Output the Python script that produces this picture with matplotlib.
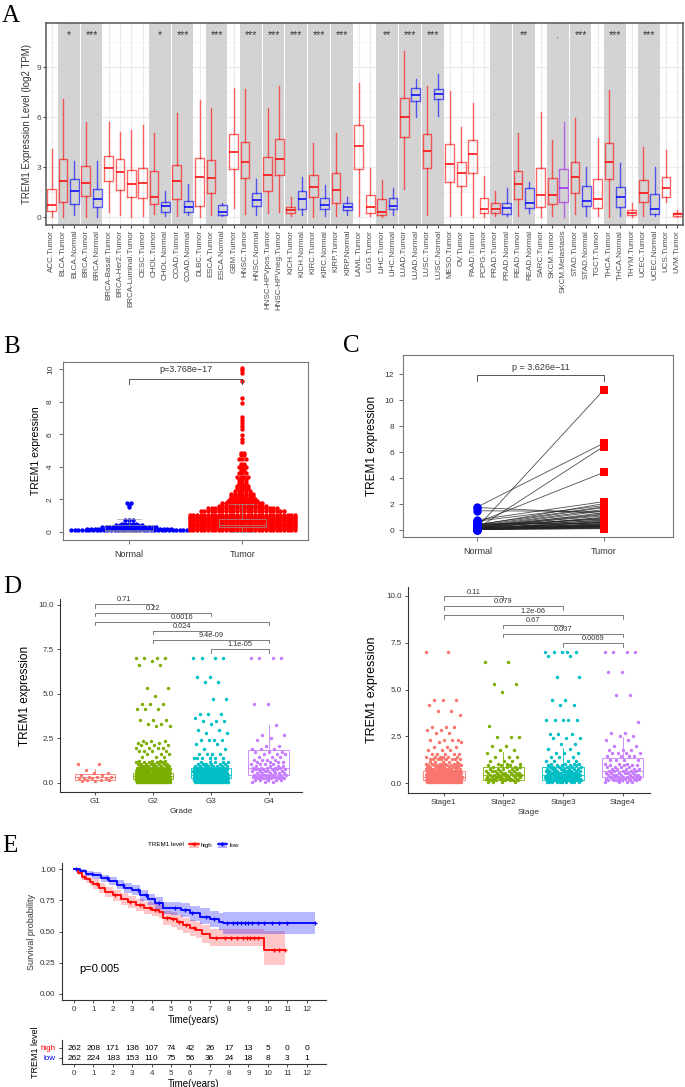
import numpy as np
import matplotlib
matplotlib.use('Agg')
import matplotlib.pyplot as plt
from matplotlib.patches import Patch
from matplotlib.lines import Line2D

plt.rcParams['font.family'] = ['Liberation Sans', 'DejaVu Sans']

# ---------------- panel A data (TIMER-like boxplots) ----------------
a_labels = ['ACC.Tumor', 'BLCA.Tumor', 'BLCA.Normal', 'BRCA.Tumor', 'BRCA.Normal',
            'BRCA-Basal.Tumor', 'BRCA-Her2.Tumor', 'BRCA-Luminal.Tumor', 'CESC.Tumor',
            'CHOL.Tumor', 'CHOL.Normal', 'COAD.Tumor', 'COAD.Normal', 'DLBC.Tumor',
            'ESCA.Tumor', 'ESCA.Normal', 'GBM.Tumor', 'HNSC.Tumor', 'HNSC.Normal',
            'HNSC-HPVpos.Tumor', 'HNSC-HPVneg.Tumor', 'KICH.Tumor', 'KICH.Normal',
            'KIRC.Tumor', 'KIRC.Normal', 'KIRP.Tumor', 'KIRP.Normal', 'LAML.Tumor',
            'LGG.Tumor', 'LIHC.Tumor', 'LIHC.Normal', 'LUAD.Tumor', 'LUAD.Normal',
            'LUSC.Tumor', 'LUSC.Normal', 'MESO.Tumor', 'OV.Tumor', 'PAAD.Tumor',
            'PCPG.Tumor', 'PRAD.Tumor', 'PRAD.Normal', 'READ.Tumor', 'READ.Normal',
            'SARC.Tumor', 'SKCM.Tumor', 'SKCM.Metastasis', 'STAD.Tumor', 'STAD.Normal',
            'TGCT.Tumor', 'THCA.Tumor', 'THCA.Normal', 'THYM.Tumor', 'UCEC.Tumor',
            'UCEC.Normal', 'UCS.Tumor', 'UVM.Tumor']
a_low = [0.02, 0.02, 0.12, 0.02, 0.02, 0.32, 0.12, 0.02, 0.06, 0.18, 0.06, 0.06, 0.12, 0.02,
         0.12, 0.06, 0.52, 0.18, 0.12, 0.22, 0.32, 0.06, 0.12, 0.02, 0.06, 0.06, 0.12, 0.06,
         0.06, 0.02, 0.12, 1.66, 6.02, 0.12, 6.08, 0.06, 0.12, 0.02, 0.02, 0.06, 0.06, 0.06,
         0.26, 0.02, 0.06, 0.02, 0.18, 0.06, 0.06, 0.02, 0.06, 0.02, 0.06, 0.06, 0.90, 0.02]
a_q1 = [0.36, 0.92, 0.78, 1.26, 0.58, 2.16, 1.62, 1.22, 1.14, 0.78, 0.30, 1.06, 0.32, 0.68,
        1.42, 0.12, 2.86, 2.32, 0.66, 1.54, 2.52, 0.22, 0.46, 1.18, 0.46, 0.82, 0.42, 2.88,
        0.22, 0.12, 0.46, 4.82, 6.98, 2.92, 7.06, 2.12, 1.88, 2.66, 0.22, 0.26, 0.18, 1.10,
        0.52, 0.62, 0.78, 0.92, 1.42, 0.66, 0.52, 2.26, 0.62, 0.12, 0.92, 0.18, 1.22, 0.06]
a_med = [0.72, 2.16, 1.58, 2.02, 1.08, 2.92, 2.70, 1.96, 2.02, 1.18, 0.66, 2.16, 0.58, 2.42,
         2.32, 0.32, 3.92, 3.28, 1.04, 2.50, 3.48, 0.42, 1.06, 1.78, 0.72, 1.62, 0.62, 4.28,
         0.58, 0.32, 0.66, 6.02, 7.32, 3.98, 7.38, 3.18, 2.62, 3.76, 0.46, 0.46, 0.52, 1.96,
         0.82, 1.32, 1.32, 1.72, 2.38, 0.98, 1.06, 3.32, 1.22, 0.26, 1.46, 0.46, 1.72, 0.18]
a_q3 = [1.66, 3.46, 2.26, 3.06, 1.68, 3.68, 3.46, 2.84, 2.96, 2.78, 0.88, 3.14, 0.98, 3.52,
        3.42, 0.72, 4.96, 4.52, 1.46, 3.58, 4.66, 0.62, 1.56, 2.52, 1.16, 2.66, 0.86, 5.52,
        1.32, 1.06, 1.15, 7.12, 7.76, 4.98, 7.68, 4.36, 3.32, 4.62, 1.12, 0.82, 0.86, 2.78,
        1.72, 2.96, 2.36, 2.86, 3.32, 1.86, 2.28, 4.46, 1.78, 0.42, 2.22, 1.36, 2.38, 0.26]
a_high = [4.10, 7.10, 3.36, 5.72, 3.36, 5.72, 5.12, 5.22, 5.52, 5.02, 1.56, 6.22, 1.98, 7.02,
          6.52, 0.82, 7.72, 7.66, 2.28, 6.52, 7.86, 1.20, 2.42, 4.46, 1.92, 5.02, 1.22, 8.02,
          2.96, 2.22, 1.72, 9.98, 8.28, 7.86, 8.58, 7.58, 5.42, 6.82, 2.46, 1.58, 1.72, 5.02,
          2.12, 6.28, 4.62, 5.68, 5.96, 3.02, 4.72, 7.62, 3.26, 0.82, 4.18, 2.98, 4.02, 0.42]
a_pairs = [(1, 2), (3, 4), (9, 10), (11, 12), (14, 15), (17, 18), (19, 20), (21, 22), (23, 24),
           (25, 26), (29, 30), (31, 32), (33, 34), (39, 40), (41, 42), (44, 45), (46, 47),
           (49, 50), (52, 53)]
a_sig = ['*', '***', '*', '***', '***', '***', '***', '***', '***', '***', '**', '***', '***',
         '', '**', '.', '***', '***', '***']

# ---------------- panel B data (beeswarm rows: value, number of samples) ----------------
b_tumor_levels = [10.06, 9.92, 9.75, 9.24, 8.22, 7.91, 7.05, 6.9, 6.7, 6.5, 6.3, 5.97, 5.7, 5.5,
                  4.85, 4.7, 4.45, 4.2, 4.0, 3.8, 3.6, 3.4, 3.2, 3.0, 2.85, 2.7, 2.5, 2.35, 2.2,
                  2.05, 1.9, 1.75, 1.6, 1.45, 1.3,
                  1.05, 0.95, 0.85, 0.75, 0.65, 0.55, 0.45, 0.35, 0.25, 0.15]
b_tumor_counts = [1, 1, 1, 1, 1, 1, 1, 1, 1, 1, 1, 1, 1, 1,
                  2, 2, 3, 2, 3, 2, 3, 4, 3, 3, 4, 4, 5, 7, 7, 8, 9, 12, 14, 20, 24,
                  30, 30, 30, 30, 30, 30, 30, 30, 30, 30]
b_normal_levels = [1.8, 1.66, 1.51, 0.74, 0.49, 0.4, 0.3, 0.2, 0.1]
b_normal_counts = [2, 1, 1, 3, 5, 8, 16, 24, 33]

# ---------------- panel C data (paired samples) ----------------
c_normal = [1.8, 0.25, 0.15, 0.6, 1.5, 1.75, 0.8, 0.7, 0.4, 0.35, 0.3, 0.3, 0.25, 0.2, 0.2,
            0.2, 0.15, 0.15, 0.15, 0.1, 0.1, 0.1, 0.1, 0.1, 0.05, 0.05, 0.05, 0.05, 0.45, 0.5,
            0.12, 0.12, 0.08, 0.08, 0.18, 0.22, 0.28, 0.06, 0.06, 0.1, 0.14, 0.3, 0.4, 0.2, 0.1]
c_tumor = [6.7, 10.8, 6.45, 4.45, 1.45, 1.3, 2.2, 1.9, 2.05, 1.75, 1.6, 1.1, 1.5, 1.2, 0.9,
           0.6, 1.0, 0.45, 0.3, 0.8, 0.5, 0.35, 0.25, 0.2, 0.7, 0.4, 0.3, 0.15, 1.8, 0.55,
           0.65, 0.28, 0.22, 0.18, 1.35, 0.95, 0.75, 0.12, 0.3, 0.42, 0.6, 1.25, 0.85, 0.38, 0.5]

# ---------------- panel D data ----------------
dense = [0.05, 0.15, 0.25, 0.35, 0.45, 0.55, 0.65, 0.75, 0.85, 0.95, 1.05, 1.15, 1.25]
grade_names = ['G1', 'G2', 'G3', 'G4']
grade_levels = [
    [1.08, 0.7, 0.55, 0.45, 0.35, 0.25, 0.15, 0.08],
    [7.0, 6.85, 6.6, 5.3, 4.85, 4.4, 4.15, 3.55, 3.3, 3.2, 2.35, 2.25, 2.1, 1.95, 1.8, 1.6, 1.45] + dense,
    [7.0, 5.95, 5.65, 4.7, 3.85, 3.65, 3.45, 3.3, 2.95, 2.8, 2.4, 2.2, 1.9, 1.6, 1.4] + dense[:12],
    [7.0, 4.45, 3.25, 2.7, 2.5, 2.4, 2.05, 1.9, 1.75, 1.6, 1.45, 1.3, 1.15] + dense[:11]]
grade_counts = [
    [2, 1, 2, 2, 3, 4, 3, 2],
    [4, 1, 2, 2, 1, 3, 3, 3, 2, 2, 3, 3, 3, 4, 4, 3, 3] + [30, 45, 45, 40, 30, 25, 18, 14, 10, 9, 8, 5, 4],
    [4, 2, 2, 2, 3, 1, 3, 1, 2, 2, 4, 2, 2, 4, 6] + [25, 40, 40, 35, 30, 22, 18, 14, 10, 8, 6, 5],
    [4, 2, 1, 2, 1, 1, 2, 3, 3, 3, 3, 4, 4] + [3, 5, 6, 7, 7, 6, 6, 6, 5, 4, 4]]
grade_box = [(0.05, 0.15, 0.30, 0.49, 0.80), (0.0, 0.19, 0.38, 0.56, 1.10),
             (0.0, 0.24, 0.43, 0.81, 1.60), (0.05, 0.43, 0.81, 1.84, 3.25)]
grade_cmp = [(1, 2, 10.04, '0.71'), (1, 3, 9.57, '0.22'), (1, 4, 9.06, '0.0016'),
             (2, 3, 8.54, '0.024'), (2, 4, 8.03, '9.4e-09'), (3, 4, 7.52, '1.1e-05')]

stage_names = ['Stage1', 'Stage2', 'Stage3', 'Stage4']
stage_levels = [
    [7.0, 4.45, 4.2, 3.85, 3.65, 3.0, 2.85, 2.7, 2.3, 2.2, 1.95, 1.75, 1.55, 1.4, 1.3] + dense[:12],
    [6.5, 5.3, 4.85, 3.05, 2.45, 2.0, 1.75, 1.6, 1.4, 1.2, 1.05] + dense[:10],
    [7.0, 6.8, 5.65, 4.45, 4.2, 3.4, 2.65, 2.4, 2.1, 1.85, 1.6, 1.4, 1.2] + dense[:11],
    [7.0, 5.95, 4.7, 3.25, 2.7, 2.5, 2.3, 2.0, 1.8, 1.6, 1.45, 1.25] + dense[:11]]
stage_counts = [
    [2, 3, 1, 2, 1, 3, 2, 2, 4, 2, 3, 3, 5, 6, 8] + [25, 35, 35, 30, 25, 20, 15, 12, 10, 8, 6, 5],
    [2, 2, 1, 1, 3, 2, 2, 1, 3, 3, 3] + [4, 6, 8, 9, 8, 7, 6, 5, 4, 3],
    [5, 2, 2, 2, 2, 5, 3, 3, 2, 2, 3, 3, 4] + [10, 15, 18, 16, 14, 12, 10, 8, 6, 5, 4],
    [4, 2, 2, 1, 2, 2, 2, 2, 3, 4, 4, 4] + [4, 6, 7, 8, 7, 6, 5, 5, 4, 4, 3]]
stage_box = [(0.0, 0.18, 0.36, 0.67, 1.45), (0.0, 0.18, 0.44, 0.89, 1.69),
             (0.0, 0.18, 0.44, 0.89, 1.90), (0.05, 0.32, 0.67, 1.37, 2.45)]
stage_cmp = [(1, 2, 9.98, '0.11'), (1, 3, 9.47, '0.079'), (1, 4, 8.97, '1.2e-06'),
             (2, 3, 8.47, '0.67'), (2, 4, 7.99, '0.037'), (3, 4, 7.50, '0.0069')]
gg_cols = ['#F8766D', '#7CAE00', '#00BFC4', '#C77CFF']

# ---------------- panel E data (Kaplan-Meier) ----------------
high_t = [0, 0.2, 0.4, 0.6, 0.8, 1.0, 1.3, 1.6, 2.0, 2.4, 2.8, 3.2, 3.6, 4.0, 4.4, 4.6, 5.0,
          5.3, 5.6, 6.0, 6.3, 6.6, 7.0, 9.8, 10.9]
high_s = [1.0, 0.97, 0.94, 0.92, 0.90, 0.88, 0.85, 0.82, 0.79, 0.76, 0.735, 0.71, 0.69, 0.675,
          0.66, 0.61, 0.60, 0.575, 0.55, 0.53, 0.51, 0.48, 0.45, 0.35, 0.35]
high_lo = [1.0, 0.95, 0.915, 0.89, 0.865, 0.84, 0.81, 0.78, 0.745, 0.715, 0.69, 0.665, 0.64,
           0.625, 0.605, 0.555, 0.54, 0.515, 0.49, 0.465, 0.445, 0.41, 0.38, 0.23, 0.23]
high_hi = [1.0, 0.99, 0.965, 0.95, 0.935, 0.92, 0.89, 0.86, 0.835, 0.81, 0.785, 0.76, 0.74,
           0.725, 0.715, 0.665, 0.66, 0.635, 0.61, 0.595, 0.575, 0.55, 0.52, 0.50, 0.50]
low_t = [0, 0.3, 0.6, 1.0, 1.4, 1.8, 2.2, 2.6, 3.0, 3.4, 3.8, 4.2, 4.6, 5.0, 5.5, 6.0, 6.5,
         7.0, 7.5, 7.7, 12.45]
low_s = [1.0, 0.985, 0.965, 0.95, 0.93, 0.905, 0.875, 0.85, 0.83, 0.79, 0.76, 0.725, 0.69,
         0.685, 0.67, 0.645, 0.62, 0.60, 0.58, 0.565, 0.565]
low_lo = [1.0, 0.97, 0.945, 0.925, 0.90, 0.87, 0.84, 0.81, 0.79, 0.745, 0.715, 0.675, 0.64,
          0.635, 0.615, 0.585, 0.56, 0.535, 0.51, 0.48, 0.475]
low_hi = [1.0, 1.0, 0.985, 0.975, 0.955, 0.935, 0.91, 0.89, 0.87, 0.835, 0.805, 0.775, 0.74,
          0.74, 0.725, 0.705, 0.685, 0.665, 0.65, 0.655, 0.66]
high_cens = [0.5, 1.2, 2.1, 2.9, 3.4, 3.9, 4.2, 4.8, 5.1, 5.4, 5.8, 6.2, 7.3, 7.8, 8.1, 8.4,
             8.7, 8.9, 9.1, 9.3, 9.5, 10.3, 10.6, 10.9]
low_cens = [0.1, 0.9, 1.7, 2.5, 3.3, 3.7, 4.4, 5.2, 5.7, 6.1, 6.8, 7.2, 7.9, 8.2, 8.4, 8.6,
            8.8, 9.0, 9.2, 9.5, 9.8, 10.2, 10.6, 11.0, 12.45]
risk_times = list(range(13))
risk_high = [262, 208, 171, 136, 107, 74, 42, 26, 17, 13, 5, 0, 0]
risk_low = [262, 224, 183, 153, 110, 75, 56, 36, 24, 18, 8, 3, 1]

# ---------------- figure ----------------
W, H = 685, 1087
fig = plt.figure(figsize=(W / 100, H / 100), dpi=100)


def pax(l, t, r, b):
    return fig.add_axes([l / W, 1 - b / H, (r - l) / W, (b - t) / H])


def letter(x, y, s):
    fig.text(x / W, 1 - y / H, s, fontsize=18, family='Liberation Serif', va='baseline')


GREY = '#4D4D4D'

# ---- A ----
ax = pax(46, 23, 683, 225)
n = len(a_labels)
pos = np.arange(n)
ax.set_xlim(-0.5, n - 0.5)
ax.set_ylim(-0.48, 11.64)
ax.set_yticks([0, 3, 6, 9])
ax.set_yticks([1.5, 4.5, 7.5, 10.5], minor=True)
ax.set_xticks(pos)
ax.set_xticklabels(a_labels, rotation=90, fontsize=5.8, color=GREY)
ax.tick_params(axis='y', labelsize=6, colors=GREY, length=2, pad=1.5)
ax.tick_params(axis='x', length=2, pad=1.5, colors=GREY)
ax.tick_params(which='minor', length=0)
ax.grid(True, which='major', color='#EBEBEB', lw=0.9)
ax.grid(True, which='minor', axis='y', color='#F2F2F2', lw=0.5)
ax.set_axisbelow(True)
for (i0, i1), s in zip(a_pairs, a_sig):
    ax.axvspan(i0 - 0.45, i1 + 0.45, color='#D3D3D3', zorder=0.8, lw=0)
    ax.text((i0 + i1) / 2, 10.9, s, ha='center', va='center', fontsize=7.5, color='#333333')
stats = [dict(med=m, q1=q1, q3=q3, whislo=lo, whishi=hi)
         for m, q1, q3, lo, hi in zip(a_med, a_q1, a_q3, a_low, a_high)]
arts = ax.bxp(stats, positions=pos, widths=0.78, showfliers=False, showcaps=False,
              manage_ticks=False, zorder=2)
for i, lab in enumerate(a_labels):
    if lab.endswith('Normal'):
        c = '#0000FF'
    elif lab.endswith('Metastasis'):
        c = '#A020F0'
    else:
        c = '#FF0000'
    arts['boxes'][i].set(color=c, alpha=0.6, lw=1.0)
    arts['whiskers'][2 * i].set(color=c, alpha=0.6, lw=1.0)
    arts['whiskers'][2 * i + 1].set(color=c, alpha=0.6, lw=1.0)
    arts['medians'][i].set(color=c, alpha=0.85, lw=1.3)
for sp in ax.spines.values():
    sp.set_color('#555555')
    sp.set_linewidth(1.1)
ax.set_ylabel('TREM1 Expression Level (log2 TPM)', fontsize=7, color='#333333', labelpad=3)
letter(2, 22, 'A')

# ---- B ----
def swarm(center, levels, counts, dx):
    xs, ys = [], []
    for v, k in zip(levels, counts):
        off = (np.arange(k) - (k - 1) / 2) * dx
        xs.extend(center + off)
        ys.extend([v] * k)
    return np.array(xs), np.array(ys)


def rbase(ax):
    for sp in ax.spines.values():
        sp.set_color('#777777')
        sp.set_linewidth(0.8)
    ax.tick_params(length=3, width=0.6, colors='#555555', labelsize=6, labelcolor='#333333')


ax = pax(63, 362, 308, 540)
ax.set_xlim(0.416, 2.58)
ax.set_ylim(-0.49, 10.43)
xn, yn = swarm(1, b_normal_levels, b_normal_counts, 0.032)
xt, yt = swarm(2, b_tumor_levels, b_tumor_counts, 0.032)
ax.scatter(xn, yn, s=10, color='#0000FF', lw=0, zorder=2)
ax.scatter(xt, yt, s=10, color='#FF0000', lw=0, zorder=2)
bstats = [dict(med=0.12, q1=0.07, q3=0.42, whislo=0.0, whishi=0.78),
          dict(med=0.45, q1=0.30, q3=0.78, whislo=0.02, whishi=1.72)]
bx = ax.bxp(bstats, positions=[1, 2], widths=0.42, showfliers=False, manage_ticks=False,
            capwidths=0.21, zorder=3)
for k in ['boxes', 'whiskers', 'caps', 'medians']:
    for a in bx[k]:
        a.set(color='#999999', lw=0.6, alpha=0.8)
ax.set_xticks([1, 2])
ax.set_xticklabels(['Normal', 'Tumor'], fontsize=6.5)
ax.set_yticks([0, 2, 4, 6, 8, 10])
ax.set_yticklabels(['0', '2', '4', '6', '8', '10'], rotation=90, va='center')
rbase(ax)
ax.tick_params(axis='x', labelsize=6.5, pad=4)
ax.plot([1, 1, 2, 2], [9.1, 9.4, 9.4, 9.1], color='#555555', lw=0.7)
ax.text(1.5, 9.95, 'p=3.768e\u221217', ha='center', va='center', fontsize=6.5, color='#333333')
ax.set_ylabel('TREM1 expression', fontsize=7.5, labelpad=4)
letter(3, 353, 'B')

# ---- C ----
ax = pax(403, 355, 673, 537)
ax.set_xlim(0.41, 2.55)
ax.set_ylim(-0.52, 13.5)
for a, b in zip(c_normal, c_tumor):
    ax.plot([1, 2], [a, b], color='#222222', lw=0.6, alpha=0.8, zorder=1)
ax.plot(np.ones(len(c_normal)), c_normal, 'o', color='#0000FF', ms=6, mew=0, zorder=2)
ax.plot(np.full(len(c_tumor), 2), c_tumor, 's', color='#FF0000', ms=6, mew=0, zorder=2)
ax.set_xticks([1, 2])
ax.set_xticklabels(['Normal', 'Tumor'])
ax.set_yticks([0, 2, 4, 6, 8, 10, 12])
rbase(ax)
ax.tick_params(axis='x', labelsize=6.5, pad=4)
ax.plot([1, 1, 2, 2], [11.5, 11.98, 11.98, 11.5], color='#555555', lw=0.7)
ax.text(1.5, 12.55, 'p = 3.626e\u221211', ha='center', va='center', fontsize=6.5, color='#333333')
ax.set_ylabel('TREM1 expression', fontsize=8.5, labelpad=5)
letter(343, 352, 'C')


# ---- D ----
def jitter_xy(center, levels, counts, w):
    ys = np.repeat(levels, counts).astype(float)
    k = np.arange(len(ys))
    xs = center + ((k * 0.6180339887) % 1 - 0.5) * 2 * w
    return xs, ys


def gg_panel(ax, names, levels, counts, boxes, cmps, xlabel, ylim):
    ax.set_xlim(0.39, 4.58)
    ax.set_ylim(*ylim)
    for i, (lv, ct) in enumerate(zip(levels, counts)):
        xs, ys = jitter_xy(i + 1, lv, ct, 0.3)
        ax.scatter(xs, ys, s=6, color=gg_cols[i], lw=0, zorder=2)
    st = [dict(med=m, q1=q1, q3=q3, whislo=lo, whishi=hi) for lo, q1, m, q3, hi in boxes]
    bb = ax.bxp(st, positions=[1, 2, 3, 4], widths=0.7, showfliers=False, showcaps=False,
                manage_ticks=False, zorder=3)
    for i in range(4):
        for a in [bb['boxes'][i], bb['medians'][i], bb['whiskers'][2 * i], bb['whiskers'][2 * i + 1]]:
            a.set(color=gg_cols[i], lw=0.7, alpha=0.85)
    for x1, x2, y, s in cmps:
        ax.plot([x1, x1, x2, x2], [y - 0.2, y, y, y - 0.2], color='#666666', lw=0.6, zorder=4)
        ax.text((x1 + x2) / 2, y + 0.04, s, ha='center', va='bottom', fontsize=5.3, color='#333333')
    ax.set_xticks([1, 2, 3, 4])
    ax.set_xticklabels(names)
    ax.set_yticks([0, 2.5, 5, 7.5, 10])
    ax.set_yticklabels(['0.0', '2.5', '5.0', '7.5', '10.0'])
    for s in ['top', 'right']:
        ax.spines[s].set_visible(False)
    for s in ['left', 'bottom']:
        ax.spines[s].set_color('#333333')
        ax.spines[s].set_linewidth(0.8)
    ax.tick_params(length=2.5, width=0.6, labelsize=5.8, colors='#333333', labelcolor='#333333', pad=2)
    ax.set_xlabel(xlabel, fontsize=6, color='#333333', labelpad=2)


ax = pax(60, 599, 302, 792)
gg_panel(ax, grade_names, grade_levels, grade_counts, grade_box, grade_cmp, 'Grade', (-0.52, 10.33))
ax.set_ylabel('TREM1 expression', fontsize=8.5, labelpad=5)
letter(3, 593, 'D')

ax = pax(408, 587, 650, 793)
gg_panel(ax, stage_names, stage_levels, stage_counts, stage_box, stage_cmp, 'Stage', (-0.52, 10.48))
ax.set_xlim(0.4, 4.46)
ax.set_ylabel('TREM1 expression', fontsize=9, labelpad=6)


# ---- E ----
def step_at(t, times, surv):
    idx = np.searchsorted(times, t, side='right') - 1
    return np.array(surv)[idx]


ax = pax(61.7, 863, 326, 1000)
ax.set_xlim(-0.64, 13.0)
ax.set_ylim(-0.05, 1.05)
ax.fill_between(high_t, high_lo, high_hi, step='post', color='#FF0000', alpha=0.22, lw=0)
ax.fill_between(low_t, low_lo, low_hi, step='post', color='#0000FF', alpha=0.28, lw=0)
ax.step(high_t, high_s, where='post', color='#FF0000', lw=1.3)
ax.step(low_t, low_s, where='post', color='#0000FF', lw=1.3)
ax.plot(high_cens, step_at(high_cens, high_t, high_s), '+', color='#FF0000', ms=3.5, mew=0.9)
ax.plot(low_cens, step_at(low_cens, low_t, low_s), '+', color='#0000FF', ms=3.5, mew=0.9)
ax.text(0.25, 0.2, 'p=0.005', fontsize=8, va='center', ha='left')
ax.set_xticks(range(13))
ax.set_yticks([0, 0.25, 0.5, 0.75, 1.0])
ax.set_yticklabels(['0.00', '0.25', '0.50', '0.75', '1.00'])
for s in ['top', 'right']:
    ax.spines[s].set_visible(False)
for s in ['left', 'bottom']:
    ax.spines[s].set_color('#333333')
    ax.spines[s].set_linewidth(0.8)
ax.tick_params(length=2.5, width=0.6, labelsize=5.8, colors='#333333', pad=2)
ax.set_xlabel('Time(years)', fontsize=7, labelpad=1)
ax.set_ylabel('Survival probability', fontsize=6.5, color='#333333', labelpad=3)

fig.text(148 / W, 1 - 845 / H, 'TREM1 level', fontsize=4.5, va='center', ha='left')
handles = [(Patch(fc='#FF0000', alpha=0.25), Line2D([], [], color='#FF0000', marker='+', lw=1.2, ms=3)),
           (Patch(fc='#0000FF', alpha=0.3), Line2D([], [], color='#0000FF', marker='+', lw=1.2, ms=3))]
fig.legend(handles, ['high', 'low'], ncol=2, loc='center left', frameon=False, fontsize=4.5,
           bbox_to_anchor=(186 / W, 1 - 845 / H), bbox_transform=fig.transFigure,
           handlelength=1.5, handleheight=1.2, columnspacing=0.8, handletextpad=0.4, borderpad=0)
letter(2, 852, 'E')

ax2 = pax(61.7, 1040, 326, 1064)
ax2.set_xlim(-0.64, 13.0)
ax2.set_ylim(0.4, 2.8)
for t, h, l in zip(risk_times, risk_high, risk_low):
    ax2.text(t, 2, str(h), ha='center', va='center', fontsize=6)
    ax2.text(t, 1, str(l), ha='center', va='center', fontsize=6)
ax2.set_xticks(range(13))
ax2.set_yticks([2, 1])
ax2.set_yticklabels(['high', 'low'])
for s in ['top', 'right']:
    ax2.spines[s].set_visible(False)
for s in ['left', 'bottom']:
    ax2.spines[s].set_color('#333333')
    ax2.spines[s].set_linewidth(0.8)
ax2.tick_params(length=2.5, width=0.6, labelsize=5.8, colors='#333333', pad=2)
for tl, c in zip(ax2.get_yticklabels(), ['#FF0000', '#0000FF']):
    tl.set_color(c)
ax2.set_xlabel('Time(years)', fontsize=7, labelpad=1)
fig.text(35 / W, 1 - 1052 / H, 'TREM1 level', rotation=90, fontsize=6.5, ha='center', va='center')

fig.savefig('out.png', dpi=100)
